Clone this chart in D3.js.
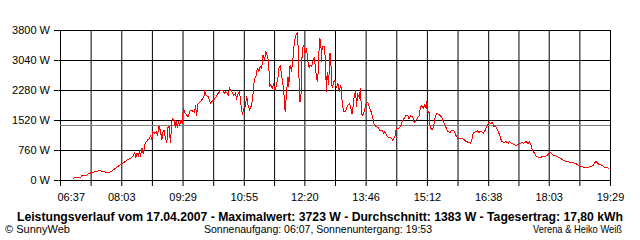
<!DOCTYPE html>
<html>
<head>
<meta charset="utf-8">
<script src="https://cdn.jsdelivr.net/npm/d3@7"></script>
<style>
    body { margin: 0; background: #ffffff; }
    svg text { font-family: "Liberation Sans", Arial, sans-serif; font-size: 11px; fill: #000000; }
    .axis path, .grid path { display: none; }
    .axis line, .grid line { stroke: #000000; }
    .titel { font-weight: bold; font-size: 12px; }
</style>
</head>
<body>
<svg id="chartSvg" width="640" height="240"></svg>
<script>
//Messzeitpunkte (hh:mm)
let zeiten = [
    "06:55","06:57","07:06","07:07","07:14","07:16","07:21","07:27","07:32","07:37",
    "07:41","07:47","07:51","07:56","08:01","08:04","08:08","08:12","08:16","08:19",
    "08:22","08:23","08:25","08:27","08:29","08:30","08:32","08:34","08:36","08:38",
    "08:40","08:43","08:44","08:46","08:47","08:49","08:52","08:54","08:56","08:58",
    "09:00","09:01","09:03","09:05","09:07","09:08","09:10","09:12","09:14","09:15",
    "09:17","09:19","09:20","09:22","09:23","09:25","09:27","09:29","09:30","09:32",
    "09:34","09:37","09:40","09:43","09:46","09:47","09:49","09:50","09:53","09:56",
    "09:59","10:00","10:02","10:05","10:08","10:11","10:14","10:16","10:19","10:22",
    "10:26","10:28","10:30","10:33","10:35","10:38","10:41","10:43","10:45","10:47",
    "10:49","10:51","10:53","10:55","10:57","10:59","11:01","11:03","11:06","11:08",
    "11:10","11:12","11:14","11:16","11:18","11:20","11:22","11:24","11:26","11:28",
    "11:30","11:31","11:33","11:35","11:37","11:39","11:41","11:43","11:44","11:46",
    "11:48","11:50","11:52","11:53","11:55","11:57","11:58","12:00","12:02","12:04",
    "12:06","12:08","12:10","12:12","12:13","12:15","12:17","12:19","12:21","12:23",
    "12:25","12:27","12:28","12:30","12:32","12:34","12:36","12:38","12:40","12:41",
    "12:43","12:44","12:45","12:48","12:49","12:51","12:52","12:54","12:56","12:57",
    "12:59","13:01","13:03","13:05","13:07","13:09","13:11","13:12","13:13","13:15",
    "13:18","13:20","13:23","13:25","13:27","13:28","13:30","13:32","13:33","13:35",
    "13:37","13:39","13:40","13:42","13:44","13:46","13:49","13:51","13:54","13:56",
    "13:58","14:01","14:04","14:06","14:09","14:11","14:13","14:15","14:18","14:21",
    "14:24","14:27","14:29","14:32","14:35","14:37","14:39","14:41","14:42","14:45",
    "14:47","14:49","14:52","14:54","14:56","14:58","15:01","15:03","15:05","15:07",
    "15:09","15:11","15:12","15:13","15:15","15:16","15:18","15:20","15:22","15:24",
    "15:26","15:28","15:31","15:33","15:35","15:38","15:40","15:42","15:45","15:47",
    "15:50","15:53","15:55","15:58","16:03","16:06","16:10","16:13","16:15","16:17",
    "16:20","16:23","16:25","16:28","16:31","16:34","16:36","16:38","16:39","16:42",
    "16:44","16:46","16:48","16:50","16:52","16:54","16:57","17:00","17:03","17:06",
    "17:08","17:11","17:14","17:17","17:20","17:23","17:25","17:28","17:31","17:34",
    "17:36","17:38","17:40","17:43","17:46","17:50","17:53","17:58","18:01","18:04",
    "18:07","18:09","18:12","18:15","18:18","18:21","18:23","18:26","18:29","18:33",
    "18:37","18:40","18:43","18:46","18:50","18:54","18:57","19:01","19:05","19:07",
    "19:09","19:11","19:13","19:16","19:19","19:21","19:24","19:28"
];

//Leistung in W
let leistung = [
    17, 51, 59, 110, 118, 152, 186, 211, 236, 220,
    194, 194, 245, 312, 380, 414, 464, 515, 549, 591,
    701, 549, 675, 616, 735, 591, 819, 650, 904, 971,
    1013, 1056, 1140, 1013, 1224, 1182, 1224, 1140, 1368, 1241,
    1013, 1182, 1267, 1056, 929, 1309, 1376, 929, 1478, 1545,
    1520, 1309, 1495, 1309, 1495, 1393, 1520, 1411, 1832, 1714,
    1664, 1604, 1773, 1748, 1714, 1900, 1621, 1917, 1968, 2027,
    2111, 2238, 2153, 2111, 1942, 2001, 2052, 2111, 2196, 2255,
    2255, 2196, 2238, 2153, 2323, 2238, 2137, 2196, 2069, 2196,
    2238, 1900, 1647, 1816, 1858, 2137, 1900, 1773, 1900, 2196,
    2576, 2618, 2846, 2745, 2872, 2830, 3167, 3040, 3250, 3149,
    2997, 2365, 2424, 2323, 2424, 2255, 2407, 2618, 2830, 2896,
    2660, 2407, 2069, 1714, 2238, 2618, 2365, 2913, 2745, 3082,
    3504, 3673, 3723, 3167, 1984, 1984, 3293, 3420, 3208, 3335,
    2997, 2830, 2913, 2871, 2997, 3124, 2745, 2491, 2830, 3588,
    3547, 2997, 3377, 3377, 3167, 2238, 2745, 2407, 3208, 3040,
    2323, 2474, 2533, 2323, 2449, 2238, 2407, 2280, 1984, 1731,
    1748, 1858, 1942, 1858, 1664, 1816, 2111, 2280, 1858, 2153,
    2086, 2323, 1689, 1629, 1731, 1900, 1968, 1858, 1714, 1563,
    1411, 1351, 1326, 1241, 1267, 1182, 1224, 1140, 1072, 1072,
    1013, 1098, 1292, 1309, 1351, 1461, 1545, 1579, 1629, 1647,
    1545, 1629, 1604, 1461, 1495, 1545, 1629, 1858, 1883, 1816,
    1917, 1799, 2001, 1748, 1714, 1411, 1292, 1292, 1411, 1629,
    1689, 1664, 1629, 1579, 1478, 1376, 1267, 1224, 1207, 1267,
    1241, 1123, 1056, 1039, 1039, 988, 954, 929, 1013, 1182,
    1224, 1241, 1207, 1241, 1182, 1267, 1351, 1436, 1461, 1436,
    1461, 1351, 1376, 1309, 1241, 1140, 971, 954, 971, 929,
    971, 929, 904, 870, 904, 929, 954, 929, 971, 929,
    971, 887, 760, 675, 591, 566, 583, 600, 616, 701,
    675, 633, 616, 591, 566, 532, 507, 481, 464, 448,
    448, 422, 397, 363, 338, 312, 312, 338, 363, 422,
    464, 448, 397, 380, 363, 312, 312, 296
];

let yTicks = [0, 760, 1520, 2280, 3040, 3800];
let xLabels = ["06:37", "08:03", "09:29", "10:55", "12:20", "13:46", "15:12", "16:38", "18:03", "19:29"];
let durchschnitt = 1383;

let titel = "Leistungsverlauf vom 17.04.2007 - Maximalwert: 3723 W - Durchschnitt: 1383 W - Tagesertrag: 17,80 kWh";
let fussLinks = "\u00A9 SunnyWeb";
let fussMitte = "Sonnenaufgang: 06:07, Sonnenuntergang: 19:53";
let fussRechts = "Verena & Heiko Wei\u00DF";

function toMin(t) {
    let p = t.split(':');
    return +p[0] * 60 + +p[1];
}

function visLeistung() {
    let svg = d3.select("#chartSvg");
    let margin = {left: 60, top: 30};
    let width = 550;
    let height = 150;

    let chart = svg.append('g')
        .attr('transform', `translate(${margin.left}, ${margin.top})`);

    //gridlines: every label plus one in between
    let labelMins = xLabels.map(toMin);
    let gridMins = [];
    for (i = 0; i < labelMins.length; i++) {
        gridMins.push(labelMins[i]);
        if (i < labelMins.length - 1) gridMins.push((labelMins[i] + labelMins[i + 1]) / 2);
    }

    const xScale = d3.scaleLinear()
        .domain([labelMins[0], labelMins[labelMins.length - 1]])
        .range([0, width]);

    const yScale = d3.scaleLinear()
        .domain([0, yTicks[yTicks.length - 1]])
        .range([height, 0]);

    //horizontal grid
    chart.append('g')
        .attr('class', 'grid')
        .call(d3.axisLeft(yScale).tickValues(yTicks).tickSize(-width).tickFormat(''));

    chart.append('g')
        .attr('class', 'axis')
        .call(d3.axisLeft(yScale)
            .tickValues(yTicks)
            .tickSize(6)
            .tickSizeOuter(0)
            .tickPadding(4)
            .tickFormat(d => d + ' W'));

    //vertical grid
    chart.append('g')
        .attr('class', 'grid')
        .attr('transform', 'translate(0, ' + height + ')')
        .call(d3.axisBottom(xScale).tickValues(gridMins).tickSize(-height).tickFormat(''));

    chart.append('g')
        .attr('class', 'axis')
        .attr('transform', 'translate(0, ' + height + ')')
        .call(d3.axisBottom(xScale).tickValues(gridMins).tickSize(6).tickSizeOuter(0).tickFormat(''));

    //time labels
    let xLab = chart.append('g')
        .attr('class', 'axis')
        .attr('transform', 'translate(0, ' + height + ')')
        .call(d3.axisBottom(xScale)
            .tickValues(labelMins)
            .tickSize(0)
            .tickPadding(13)
            .tickFormat((d, i) => xLabels[i]));
    xLab.select('.tick text')
        .attr('text-anchor', 'start')
        .attr('x', -3);

    //average line
    let yAvg = Math.round(yScale(durchschnitt)) + 0.5;
    chart.append('line')
        .attr('x1', 0)
        .attr('x2', width)
        .attr('y1', yAvg)
        .attr('y2', yAvg)
        .attr('stroke', '#808080')
        .attr('stroke-width', 1);

    //power curve
    let punkte = zeiten.map((t, i) => ({t: toMin(t), w: leistung[i]}));
    let line = d3.line()
        .x(d => xScale(d.t))
        .y(d => yScale(d.w));

    chart.append('path')
        .datum(punkte)
        .attr('d', line)
        .attr('fill', 'none')
        .attr('stroke', '#ff0000')
        .attr('stroke-width', 1)
        .attr('shape-rendering', 'crispEdges');

    //footer
    svg.append('text')
        .attr('class', 'titel')
        .attr('x', 320)
        .attr('y', 221)
        .attr('text-anchor', 'middle')
        .attr('textLength', 606)
        .attr('lengthAdjust', 'spacingAndGlyphs')
        .text(titel);

    svg.append('text')
        .attr('x', 5)
        .attr('y', 233)
        .attr('textLength', 65)
        .attr('lengthAdjust', 'spacingAndGlyphs')
        .text(fussLinks);

    svg.append('text')
        .attr('x', 318)
        .attr('y', 233)
        .attr('text-anchor', 'middle')
        .attr('textLength', 228)
        .attr('lengthAdjust', 'spacingAndGlyphs')
        .text(fussMitte);

    svg.append('text')
        .attr('x', 622)
        .attr('y', 233)
        .attr('text-anchor', 'end')
        .attr('textLength', 89)
        .attr('lengthAdjust', 'spacingAndGlyphs')
        .text(fussRechts);
}

visLeistung();
</script>
</body>
</html>
